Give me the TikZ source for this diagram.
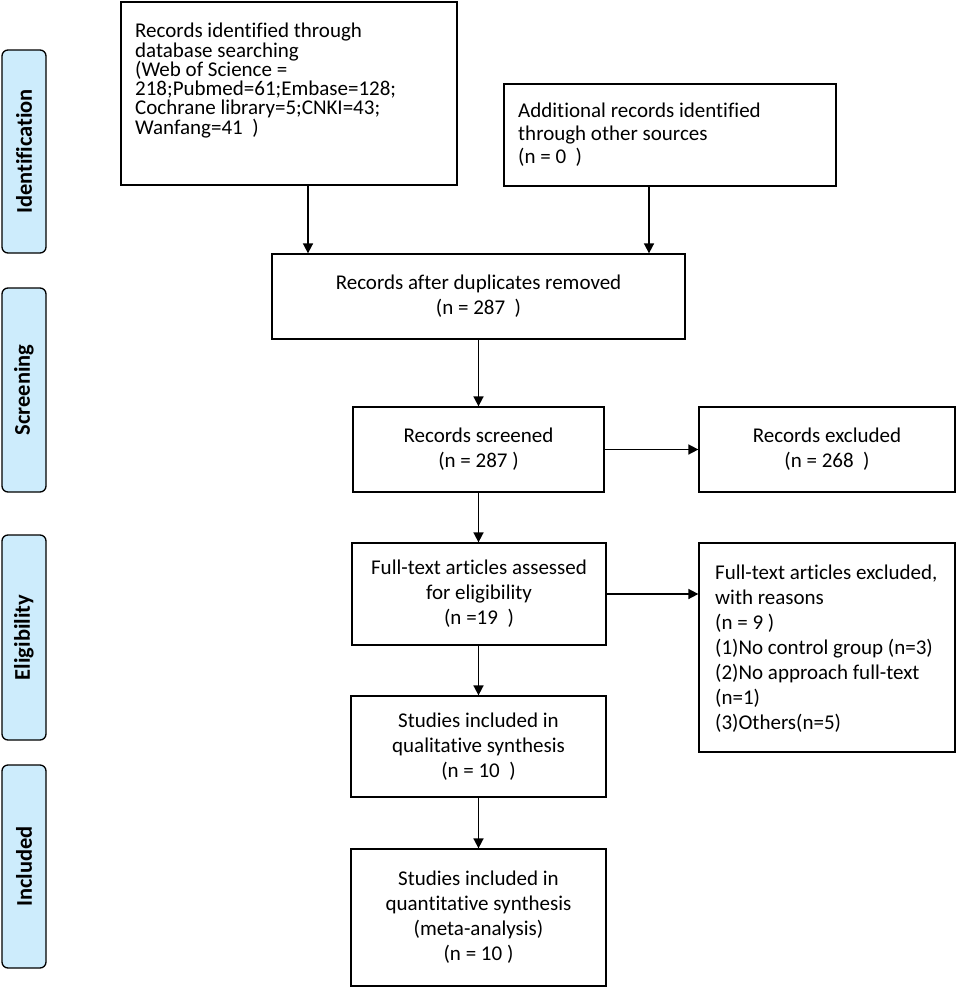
\documentclass[tikz,border=0pt]{standalone}
\usepackage{fontspec}
\setmainfont{Carlito}[Ligatures=NoCommon]
\usetikzlibrary{arrows.meta}
\definecolor{pillblue}{RGB}{205,236,252}
\tikzset{
  box/.style={draw=black, line width=1.3pt, rectangle, inner sep=0pt, align=center,
    font=\fontsize{21}{25}\selectfont},
  txt/.style={inner sep=0pt, align=flush left, font=\fontsize{21}{25}\selectfont},
  pill/.style={draw=black, line width=1.3pt, fill=pillblue, rounded corners=6pt,
    minimum width=44pt, inner sep=0pt},
  pilltxt/.style={rotate=90, font=\fontsize{22.5}{24}\selectfont\bfseries},
  arr/.style={line width=1.7pt, -{Triangle[length=10pt,width=10pt]}}
}
\begin{document}
\begin{tikzpicture}[x=1pt,y=-1pt]
\useasboundingbox (0,0) rectangle (957,988);
% phase pills
\node[pill, minimum height=203pt] (p1) at (24,151.5) {};
\node[pilltxt] (p1t) at (p1.center) {Identification};
\node[pill, minimum height=204pt] (p2) at (24,390) {};
\node[pilltxt] (p2t) at (p2.center) {Screening};
\node[pill, minimum height=205pt] (p3) at (24,637.5) {};
\node[pilltxt] (p3t) at (p3.center) {Eligibility};
\node[pill, minimum height=203pt] (p4) at (24,866.5) {};
\node[pilltxt] (p4t) at (p4.center) {Included};
% boxes
\node[box, minimum width=336pt, minimum height=183pt] (b1) at (289,93.5) {};
\node[txt, anchor=north west, font=\fontsize{21}{19.3}\selectfont] (b1t) at (135,23) {Records identified through\\database searching\\(Web of Science =\\218;Pubmed=61;Embase=128;\\Cochrane library=5;CNKI=43;\\Wanfang=41\ \ )};
\node[box, minimum width=332pt, minimum height=102pt] (b2) at (670,135) {};
\node[txt, anchor=west, font=\fontsize{21}{23}\selectfont] (b2t) at (518,135) {Additional records identified\\through other sources\\(n = 0\ \ )};
\node[box, minimum width=413pt, minimum height=85pt] (b3) at (478.5,296.5) {Records after duplicates removed\\(n = 287\ \ )};
\node[box, minimum width=251pt, minimum height=85pt] (b4) at (478.5,449.5) {Records screened\\(n = 287 )};
\node[box, minimum width=256pt, minimum height=85pt] (e1) at (827,449.5) {Records excluded\\(n = 268\ \ )};
\node[box, minimum width=254pt, minimum height=102pt] (b6) at (479,594) {Full-text articles assessed\\for eligibility\\(n =19\ \ )};
\node[box, minimum width=256pt, minimum height=209pt] (e2) at (827,647.5) {};
\node[txt, anchor=west] (e2t) at (715,648.5) {Full-text articles excluded,\\with reasons\\(n = 9 )\\(1)No control group (n=3)\\(2)No approach full-text\\(n=1)\\(3)Others(n=5)};
\node[box, minimum width=255pt, minimum height=101pt] (b7) at (478.5,746.5) {Studies included in\\qualitative synthesis\\(n = 10\ \ )};
\node[box, minimum width=255pt, minimum height=137pt] (b8) at (478.5,917.5) {Studies included in\\quantitative synthesis\\(meta-analysis)\\(n = 10 )};
% connectors
\coordinate (c1) at (308,0);
\coordinate (c2) at (649,0);
\draw[arr] (b1.south -| c1) -- (b3.north -| c1);
\draw[arr] (b2.south -| c2) -- (b3.north -| c2);
\draw[arr] (b3.south) -- (b3.south |- b4.north);
\draw[arr] (b4.east) -- (e1.west);
\draw[arr] (b4.south) -- (b4.south |- b6.north);
\draw[arr] (b6.east) -- (b6.east -| e2.west);
\draw[arr] (b7.north |- b6.south) -- (b7.north);
\draw[arr] (b7.south) -- (b8.north);
\end{tikzpicture}
\end{document}
